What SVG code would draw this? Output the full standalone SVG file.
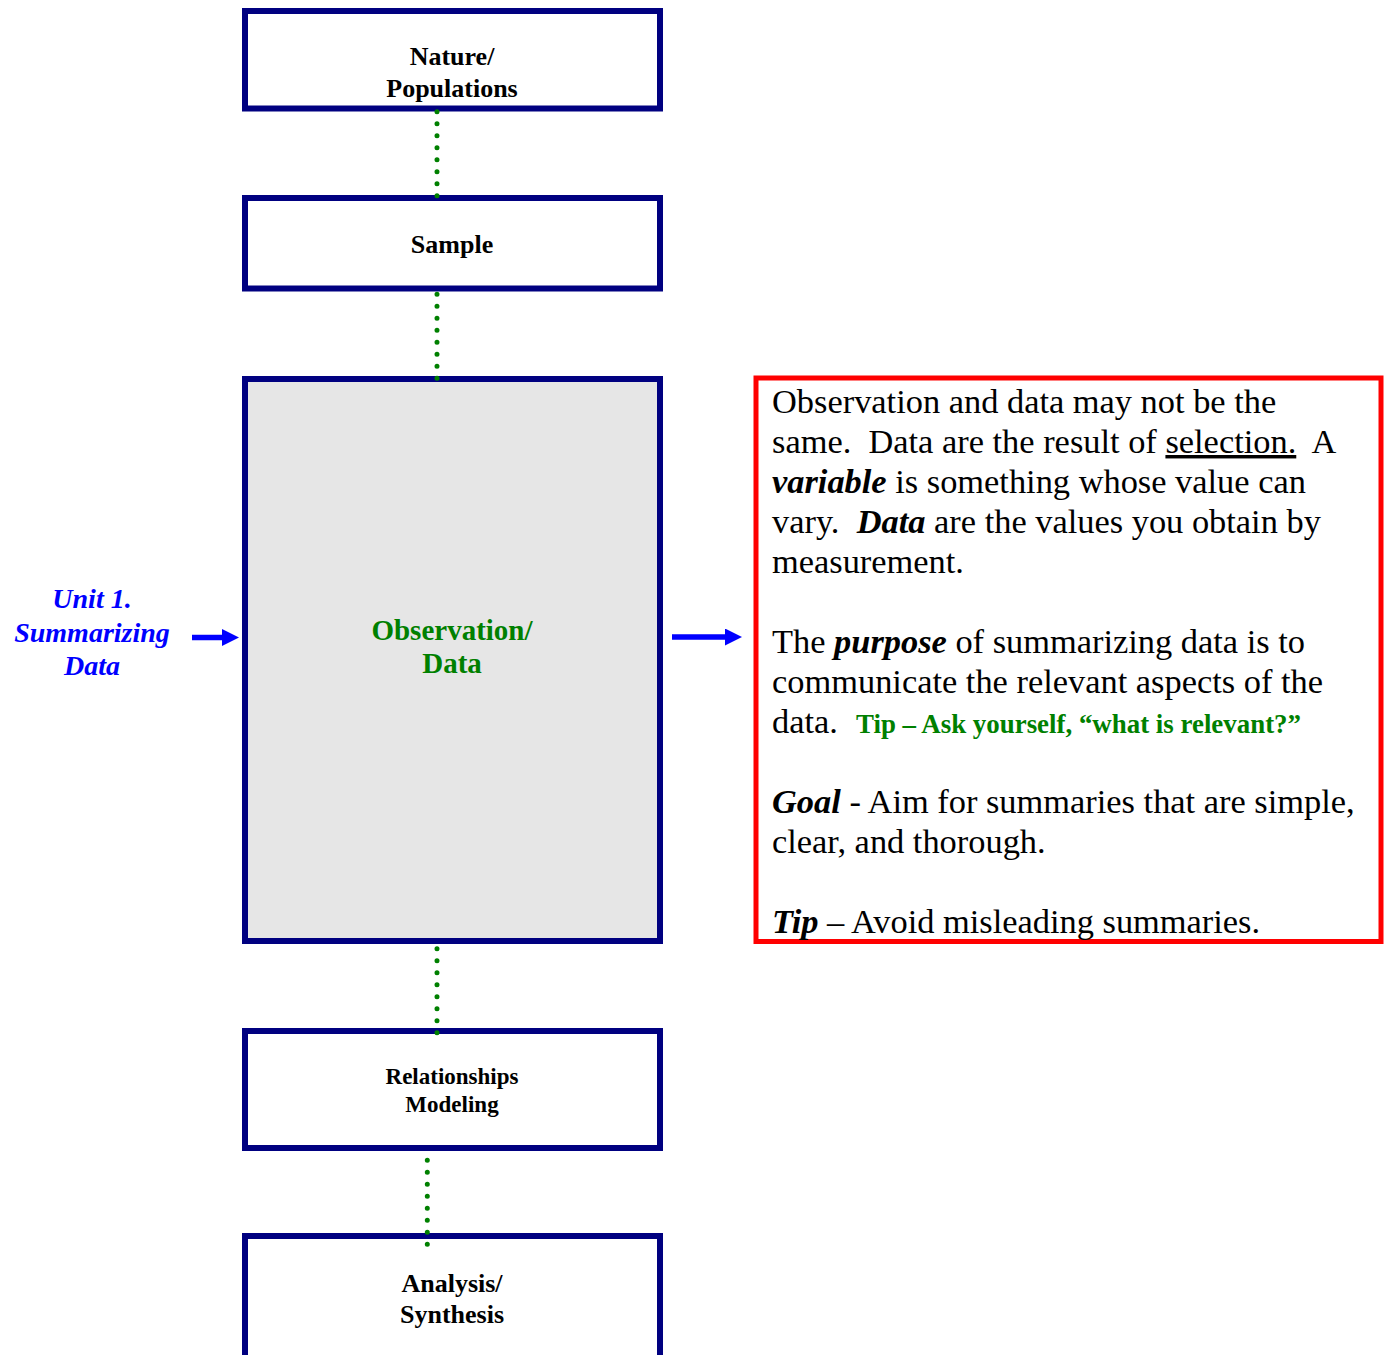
<svg xmlns="http://www.w3.org/2000/svg" width="1387" height="1355" viewBox="0 0 1387 1355">
<style>
.box{fill:#fff;stroke:#000080;stroke-width:6}
.lbl{font-family:"Liberation Serif","Times New Roman",serif;font-weight:bold;fill:#000;text-anchor:middle}
.dot{stroke:#008000;stroke-width:5;stroke-linecap:round;stroke-dasharray:0 12;fill:none}
.arr{stroke:#0000ff;stroke-width:5.5;fill:none;marker-end:url(#ah)}
.body{font-family:"Liberation Serif","Times New Roman",serif;font-size:34.4px;fill:#000}
.bi{font-weight:bold;font-style:italic}
</style>
<defs>
<marker id="ah" markerUnits="userSpaceOnUse" markerWidth="18" markerHeight="18" viewBox="0 0 18 18" refX="1" refY="8.5" orient="auto">
<path d="M0,0 L17,8.5 L0,17 Z" fill="#0000ff"/>
</marker>
</defs>
<rect width="1387" height="1355" fill="#fff"/>
<g id="n1">
<rect class="box" x="245" y="11" width="415" height="97.5"/>
<text class="lbl" x="452" y="65" font-size="26">Nature/</text>
<text class="lbl" x="452" y="97" font-size="26">Populations</text>
</g>
<g id="n2">
<rect class="box" x="245" y="198" width="415" height="90.5"/>
<text class="lbl" x="452" y="253" font-size="26">Sample</text>
</g>
<g id="n3">
<rect class="box" x="245" y="379" width="415" height="562" style="fill:#e6e6e6"/>
<text class="lbl" x="452" y="640" font-size="29" style="fill:#008000">Observation/</text>
<text class="lbl" x="452" y="673" font-size="29" style="fill:#008000">Data</text>
</g>
<g id="n4">
<rect class="box" x="245" y="1031" width="415" height="117"/>
<text class="lbl" x="452" y="1084" font-size="23">Relationships</text>
<text class="lbl" x="452" y="1112" font-size="23">Modeling</text>
</g>
<g id="n5">
<rect class="box" x="245" y="1236" width="415" height="200"/>
<text class="lbl" x="452" y="1292" font-size="26">Analysis/</text>
<text class="lbl" x="452" y="1323" font-size="26">Synthesis</text>
</g>
<g id="unit-label">
<text x="92" y="608" font-family="Liberation Serif, Times New Roman, serif" font-size="28" font-weight="bold" font-style="italic" fill="#0000ff" text-anchor="middle">Unit 1.</text>
<text x="92" y="642" font-family="Liberation Serif, Times New Roman, serif" font-size="28" font-weight="bold" font-style="italic" fill="#0000ff" text-anchor="middle">Summarizing</text>
<text x="92" y="675" font-family="Liberation Serif, Times New Roman, serif" font-size="28" font-weight="bold" font-style="italic" fill="#0000ff" text-anchor="middle">Data</text>
</g>
<g id="note">
<rect x="756" y="378" width="625" height="563.5" fill="#fff" stroke="#ff0000" stroke-width="5"/>
<text class="body" x="772" y="413" xml:space="preserve">Observation and data may not be the</text>
<text class="body" x="772" y="453" xml:space="preserve">same.  Data are the result of <tspan text-decoration="underline">selection.</tspan>  A</text>
<text class="body" x="772" y="493" xml:space="preserve"><tspan class="bi">variable</tspan> is something whose value can</text>
<text class="body" x="772" y="533" xml:space="preserve">vary.  <tspan class="bi">Data</tspan> are the values you obtain by</text>
<text class="body" x="772" y="573" xml:space="preserve">measurement.</text>
<text class="body" x="772" y="653" xml:space="preserve">The <tspan class="bi">purpose</tspan> of summarizing data is to</text>
<text class="body" x="772" y="693" xml:space="preserve">communicate the relevant aspects of the</text>
<text class="body" x="772" y="733" xml:space="preserve">data.</text>
<text x="856" y="733" font-family="Liberation Serif, Times New Roman, serif" font-size="26.9" font-weight="bold" fill="#008000">Tip – Ask yourself, “what is relevant?”</text>
<text class="body" x="772" y="813" xml:space="preserve"><tspan class="bi">Goal</tspan> - Aim for summaries that are simple,</text>
<text class="body" x="772" y="853" xml:space="preserve">clear, and thorough.</text>
<text class="body" x="772" y="933" xml:space="preserve"><tspan class="bi">Tip</tspan> – Avoid misleading summaries.</text>
</g>
<g id="connectors">
<line class="dot" x1="437" y1="111.7" x2="437" y2="196.2"/>
<line class="dot" x1="437" y1="294.3" x2="437" y2="378.8"/>
<line class="dot" x1="437" y1="948.7" x2="437" y2="1033.2"/>
<line class="dot" x1="427.3" y1="1160.3" x2="427.3" y2="1244.8"/>
<line class="arr" x1="192" y1="637.5" x2="223" y2="637.5"/>
<line class="arr" x1="672" y1="637" x2="726" y2="637"/>
</g>
</svg>
